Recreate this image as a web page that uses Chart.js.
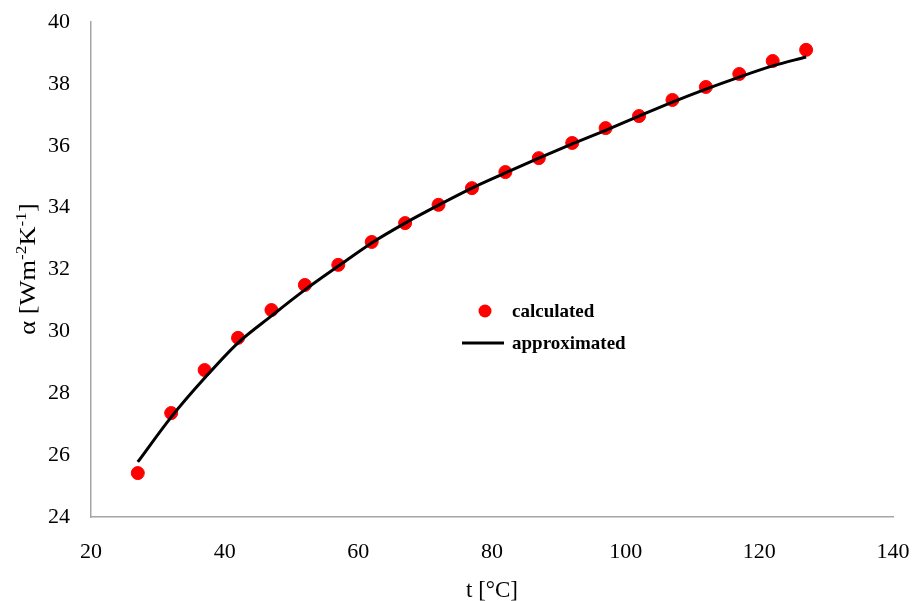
<!DOCTYPE html>
<html>
<head>
<meta charset="utf-8">
<script src="https://cdn.jsdelivr.net/npm/chart.js@4.4.1/dist/chart.umd.min.js"></script>
<style>
  html, body { margin: 0; padding: 0; background: #fff; }
  #wrap { width: 914px; height: 601px; position: relative; }
</style>
</head>
<body>
<div id="wrap"><canvas id="alpha"></canvas></div>
<script>
// heat transfer coefficient vs temperature
const tCalc = [27, 32, 37, 42, 47, 52, 57, 62, 67, 72, 77, 82, 87, 92, 97, 102, 107, 112, 117, 122, 127];
const alphaCalc = [25.42, 27.36, 28.75, 29.79, 30.69, 31.5, 32.15, 32.89, 33.5, 34.09, 34.63,
  35.15, 35.6, 36.09, 36.57, 36.96, 37.48, 37.9, 38.32, 38.74, 39.1];

const tApprox = [27, 32, 37, 42, 47, 52, 57, 62, 67, 72, 77, 82, 87, 92, 97, 102, 107, 112, 117, 122, 127];
const alphaApprox = [25.78, 27.23, 28.49, 29.63, 30.5, 31.34, 32.11, 32.86, 33.5, 34.08, 34.63,
  35.12, 35.6, 36.06, 36.5, 36.96, 37.41, 37.83, 38.22, 38.58, 38.87];

const xTicks = [20, 40, 60, 80, 100, 120, 140];
const yTicks = [24, 26, 28, 30, 32, 34, 36, 38, 40];

Chart.defaults.font.family = '"Liberation Serif", "Times New Roman", serif';
Chart.defaults.color = '#000';

const toXY = (xs, ys) => xs.map((x, i) => ({ x: x, y: ys[i] }));

// legend sits inside the plot, so it is drawn by hand
const innerLegend = {
  id: 'innerLegend',
  afterDraw(chart) {
    const ctx = chart.ctx;
    ctx.save();
    ctx.font = 'bold 19px "Liberation Serif", serif';
    ctx.textBaseline = 'middle';
    ctx.fillStyle = '#ff0000';
    ctx.beginPath();
    ctx.arc(485, 311, 6.5, 0, Math.PI * 2);
    ctx.fill();
    ctx.fillStyle = '#000';
    ctx.fillText('calculated', 512, 312);
    ctx.strokeStyle = '#000';
    ctx.lineWidth = 3;
    ctx.beginPath();
    ctx.moveTo(462, 343);
    ctx.lineTo(504, 343);
    ctx.stroke();
    ctx.fillText('approximated', 512, 344);
    ctx.restore();
  }
};

// y title with superscript exponents
const yTitle = {
  id: 'yTitle',
  afterDraw(chart) {
    const ctx = chart.ctx;
    const parts = [
      ['\u03b1 [Wm', 0], ['-2', 1], ['K', 0], ['-1', 1], [']', 0]
    ];
    const big = '23px "Liberation Serif", serif';
    const small = '15px "Liberation Serif", serif';
    ctx.save();
    let total = 0;
    parts.forEach(p => { ctx.font = p[1] ? small : big; total += ctx.measureText(p[0]).width; });
    ctx.translate(29, 269);
    ctx.rotate(-Math.PI / 2);
    ctx.scale(1.15, 1);
    ctx.textBaseline = 'middle';
    ctx.fillStyle = '#000';
    let x = -total / 2;
    parts.forEach(p => {
      ctx.font = p[1] ? small : big;
      ctx.fillText(p[0], x, p[1] ? -7 : 0);
      x += ctx.measureText(p[0]).width;
    });
    ctx.restore();
  }
};

new Chart(document.getElementById('alpha'), {
  type: 'scatter',
  data: {
    datasets: [
      {
        label: 'calculated',
        data: toXY(tCalc, alphaCalc),
        backgroundColor: '#ff0000',
        borderColor: '#ff0000',
        pointRadius: 6.5,
        pointHoverRadius: 6.5,
        order: 2
      },
      {
        label: 'approximated',
        type: 'line',
        data: toXY(tApprox, alphaApprox),
        borderColor: '#000',
        borderWidth: 3,
        pointRadius: 0,
        fill: false,
        cubicInterpolationMode: 'monotone',
        order: 1
      }
    ]
  },
  options: {
    responsive: true,
    maintainAspectRatio: false,
    animation: false,
    layout: { padding: { top: 22, right: 21, left: 0, bottom: 0 } },
    plugins: {
      legend: { display: false },
      tooltip: { enabled: false }
    },
    scales: {
      x: {
        type: 'linear',
        min: 20,
        max: 140,
        afterFit: s => { s.height = 84; s.paddingLeft = 0; s.paddingRight = 0; },
        afterBuildTicks: s => { s.ticks = xTicks.map(v => ({ value: v })); },
        grid: { color: 'rgba(0,0,0,0)', drawTicks: false },
        border: { color: '#a6a6a6', width: 1.5 },
        ticks: { font: { size: 22 }, padding: 22, maxRotation: 0 },
        title: { display: true, text: 't [\u00b0C]', font: { size: 23 }, padding: { top: 0, bottom: -4 } }
      },
      y: {
        min: 24,
        max: 40,
        afterFit: s => { s.width = 91; s.paddingTop = 0; s.paddingBottom = 0; },
        afterBuildTicks: s => { s.ticks = yTicks.map(v => ({ value: v })); },
        grid: { color: 'rgba(0,0,0,0)', drawTicks: false },
        border: { color: '#a6a6a6', width: 1.5 },
        ticks: { font: { size: 22 }, padding: 21 }
      }
    }
  },
  plugins: [innerLegend, yTitle]
});
</script>
</body>
</html>
